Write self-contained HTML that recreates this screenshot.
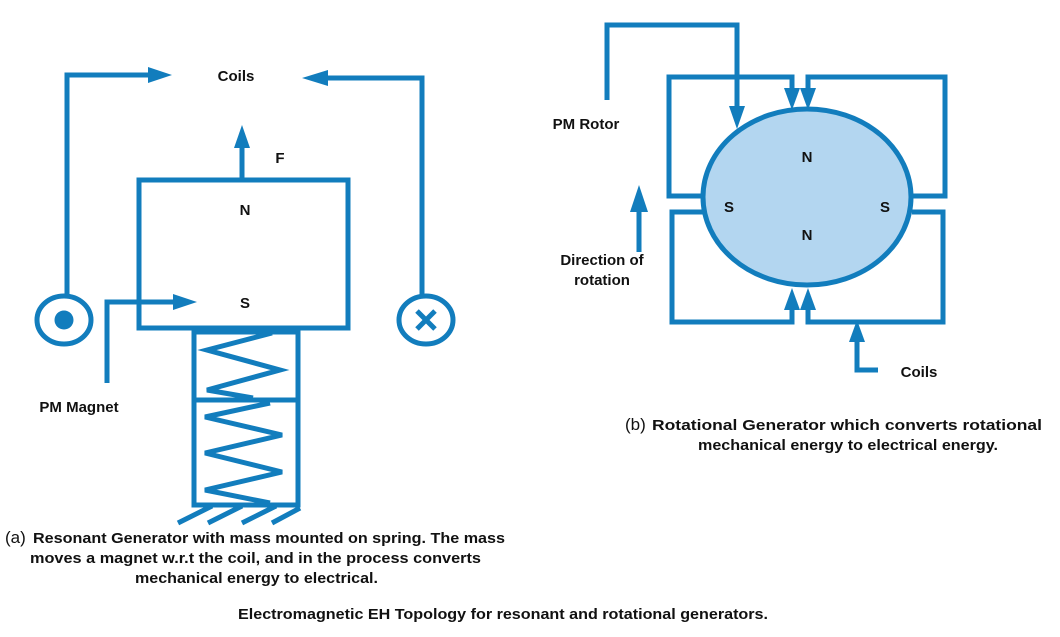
<!DOCTYPE html>
<html><head><meta charset="utf-8"><style>
html,body{margin:0;padding:0;background:#fff;}
svg{display:block;}
text{font-family:"Liberation Sans",sans-serif;font-weight:bold;font-size:15px;fill:#111;}
</style></head><body>
<svg width="1060" height="637" viewBox="0 0 1060 637" xmlns="http://www.w3.org/2000/svg">
<g stroke="#127dbd" stroke-width="5" fill="none" stroke-linejoin="miter">
 <!-- left coil wires -->
 <polyline points="67,296 67,75 152,75"/>
 <polyline points="422,296 422,78 324,78"/>
 <ellipse cx="64" cy="320" rx="27" ry="24"/>
 <ellipse cx="426" cy="320" rx="27" ry="24"/>
 <line x1="417" y1="311" x2="435" y2="329" stroke-width="5"/>
 <line x1="435" y1="311" x2="417" y2="329" stroke-width="5"/>
 <!-- mass -->
 <rect x="139" y="180" width="209" height="148"/>
 <line x1="242" y1="180" x2="242" y2="145"/>
 <polyline points="107,383 107,302 177,302"/>
 <!-- spring box -->
 <rect x="194" y="332" width="104" height="173"/>
 <line x1="194" y1="400" x2="298" y2="400"/>
 <polyline points="272,333 207,350 280,370 207,390 253,398"/>
 <polyline points="270,403 205,417 282,435 205,453 282,472 205,490 270,503"/>
 <line x1="178" y1="523" x2="212" y2="506"/>
 <line x1="208" y1="523" x2="242" y2="506"/>
 <line x1="242" y1="523" x2="276" y2="506"/>
 <line x1="272" y1="523" x2="300" y2="508"/>
 <!-- right -->
 <ellipse cx="807" cy="197" rx="104" ry="88" fill="#b3d6f0"/>
 <polyline points="703,196 669,196 669,77 792,77 792,92"/>
 <polyline points="912,196 945,196 945,77 808,77 808,92"/>
 <polyline points="703,212 672,212 672,322 792,322 792,306"/>
 <polyline points="912,212 943,212 943,322 808,322 808,306"/>
 <polyline points="607,100 607,25 737,25 737,108"/>
 <line x1="639" y1="252" x2="639" y2="208"/>
 <polyline points="878,370 857,370 857,340"/>
</g>
<g fill="#127dbd">
 <circle cx="64" cy="320" r="9.5"/>
 <polygon points="148,67 172,75 148,83"/>
 <polygon points="328,70 302,78 328,86"/>
 <polygon points="234,148 242,125 250,148"/>
 <polygon points="173,294 197,302 173,310"/>
 <polygon points="784,88 800,88 792,110"/>
 <polygon points="800,88 816,88 808,110"/>
 <polygon points="784,310 800,310 792,288"/>
 <polygon points="800,310 816,310 808,288"/>
 <polygon points="729,106 745,106 737,129"/>
 <polygon points="630,212 648,212 639,185"/>
 <polygon points="849,342 865,342 857,320"/>
</g>
<text x="236" y="81" text-anchor="middle">Coils</text>
<text x="280" y="163" text-anchor="middle">F</text>
<text x="245" y="215" text-anchor="middle">N</text>
<text x="245" y="308" text-anchor="middle">S</text>
<text x="79" y="412" text-anchor="middle">PM Magnet</text>
<text x="807" y="162" text-anchor="middle">N</text>
<text x="807" y="240" text-anchor="middle">N</text>
<text x="729" y="212" text-anchor="middle">S</text>
<text x="885" y="212" text-anchor="middle">S</text>
<text x="586" y="129" text-anchor="middle">PM Rotor</text>
<text x="602" y="265" text-anchor="middle">Direction of</text>
<text x="602" y="285" text-anchor="middle">rotation</text>
<text x="919" y="377" text-anchor="middle">Coils</text>
<text x="5" y="543" style="font-weight:normal;font-size:17px">(a)</text>
<text x="33" y="543" textLength="472" lengthAdjust="spacingAndGlyphs">Resonant Generator with mass mounted on spring. The mass</text>
<text x="30" y="563" textLength="451" lengthAdjust="spacingAndGlyphs">moves a magnet w.r.t the coil, and in the  process converts</text>
<text x="135" y="583" textLength="243" lengthAdjust="spacingAndGlyphs">mechanical energy to electrical.</text>
<text x="625" y="430" style="font-weight:normal;font-size:17px">(b)</text>
<text x="652" y="430" textLength="390" lengthAdjust="spacingAndGlyphs">Rotational Generator which converts rotational</text>
<text x="698" y="450" textLength="300" lengthAdjust="spacingAndGlyphs">mechanical energy to electrical energy.</text>
<text x="238" y="619" textLength="530" lengthAdjust="spacingAndGlyphs">Electromagnetic EH Topology for resonant and rotational generators.</text>
</svg>
</body></html>
